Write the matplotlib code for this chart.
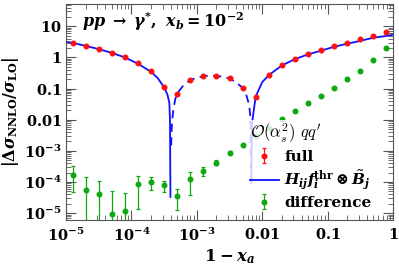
import numpy as np
import matplotlib
matplotlib.use("Agg")
import matplotlib.pyplot as plt
from matplotlib.ticker import LogLocator, NullFormatter, FixedLocator

plt.rcParams['mathtext.fontset'] = 'dejavuserif'
plt.rcParams['font.family'] = ['DejaVu Serif']
plt.rcParams['font.weight'] = 'bold'

# ---- data (log10 of 1 - x_a) ----
pts_log_x = [-4.9, -4.7, -4.5, -4.3, -4.1, -3.9, -3.7, -3.5, -3.3, -3.1,
             -2.9, -2.7, -2.5, -2.3, -2.1, -1.9, -1.7, -1.5, -1.3, -1.1,
             -0.9, -0.7, -0.5, -0.3, -0.1]

full_vals = [2.94, 2.35, 1.85, 1.40, 1.00, 0.64, 0.356, 0.11, 0.067, 0.187,
             0.252, 0.257, 0.217, 0.106, 0.0546, 0.271, 0.554, 0.90, 1.30, 1.75,
             2.30, 2.94, 3.78, 4.92, 6.6]
full_err = [0.01 * v for v in full_vals]

diff_vals = [1.64e-4, 5.5e-5, 4.2e-5, 9.6e-6, 1.2e-5, 8.3e-5, 1.0e-4, 7.7e-5, 3.5e-5, 1.26e-4,
             2.3e-4, 4.1e-4, 8.8e-4, 1.55e-3, 2.9e-3, 5.4e-3, 0.0104, 0.0188, 0.0332, 0.0582,
             0.105, 0.20, 0.38, 0.80, 1.95]
diff_lo = [4.7e-5, 1e-8, 1e-8, 1e-8, 1e-8, 1.4e-5, 5.4e-5, 4.7e-5, 1.3e-5, 3.7e-5,
           1.6e-4, 3.4e-4, 8.0e-4, 1.45e-3, 2.8e-3, 5.3e-3, 0.0102, 0.0185, 0.0328, 0.0576,
           0.104, 0.198, 0.377, 0.795, 1.94]
diff_hi = [3.2e-4, 1.4e-4, 1.05e-4, 5.2e-5, 4.3e-5, 1.5e-4, 1.4e-4, 1.05e-4, 5.8e-5, 2.1e-4,
           2.95e-4, 4.9e-4, 9.6e-4, 1.65e-3, 3.0e-3, 5.5e-3, 0.0106, 0.0191, 0.0336, 0.0588,
           0.106, 0.202, 0.383, 0.805, 1.96]

# theory curve H f (x) B : positive (solid) / negative (dashed) branches
thr1_log_x = [-5.0, -4.9, -4.7, -4.5, -4.3, -4.1, -3.9, -3.7, -3.6, -3.5, -3.45, -3.42, -3.41, -3.403]
thr1_vals = [3.2, 2.94, 2.35, 1.85, 1.40, 1.0, 0.63, 0.345, 0.22, 0.11, 0.065, 0.035, 0.01, 3.3e-5]

thr2_log_x = [-3.392, -3.38, -3.36, -3.33, -3.3, -3.2, -3.1, -3.0, -2.9, -2.8, -2.7, -2.6,
              -2.5, -2.4, -2.3, -2.25, -2.2, -2.18, -2.17]
thr2_vals = [1.5e-3, 0.008, 0.02, 0.045, 0.07, 0.13, 0.185, 0.225, 0.25, 0.26, 0.255, 0.24,
             0.21, 0.16, 0.105, 0.07, 0.03, 0.012, 8e-5]

thr3_log_x = [-2.166, -2.156, -2.1, -2.0, -1.9, -1.7, -1.5, -1.3, -1.1, -0.9, -0.7, -0.5, -0.3, -0.1, 0.0]
thr3_vals = [1e-4, 0.0076, 0.055, 0.16, 0.27, 0.55, 0.88, 1.25, 1.65, 2.2, 2.75, 3.4, 4.3, 4.9, 5.4]

x_tick_vals = [1e-5, 1e-4, 1e-3, 1e-2, 1e-1, 1]
x_tick_labels = [r'$\mathbf{10^{-5}}$', r'$\mathbf{10^{-4}}$', r'$\mathbf{10^{-3}}$',
                 r'$\mathbf{0.01}$', r'$\mathbf{0.1}$', r'$\mathbf{1}$']
y_tick_vals = [1e-5, 1e-4, 1e-3, 1e-2, 1e-1, 1, 10]
y_tick_labels = [r'$\mathbf{10^{-5}}$', r'$\mathbf{10^{-4}}$', r'$\mathbf{10^{-3}}$',
                 r'$\mathbf{0.01}$', r'$\mathbf{0.1}$', r'$\mathbf{1}$', r'$\mathbf{10}$']

RED = '#ff1010'
BLUE = '#1010ff'
GREEN = '#10a810'

fig = plt.figure(figsize=(3.99, 2.69), dpi=100)
ax = fig.add_axes([66/399, 1 - 220/269, 327/399, 216/269])
ax.set_xscale('log')
ax.set_yscale('log')

px = 10 ** np.array(pts_log_x)

ax.plot(10 ** np.array(thr1_log_x), thr1_vals, color=BLUE, lw=1.3, zorder=2)
ax.plot(10 ** np.array(thr2_log_x), thr2_vals, color=BLUE, lw=1.3, ls=(0, (4.5, 3)), zorder=2)
ax.plot(10 ** np.array(thr3_log_x), thr3_vals, color=BLUE, lw=1.3, zorder=2)

fv = np.array(full_vals)
fe = np.array(full_err)
h_full = ax.errorbar(px, fv, yerr=[fe, fe], fmt='o', color=RED, ms=3.3, capsize=1.6,
                     elinewidth=0.9, capthick=0.9, zorder=3)
dv = np.array(diff_vals)
h_diff = ax.errorbar(px, dv, yerr=[dv - np.array(diff_lo), np.array(diff_hi) - dv], fmt='o',
                     color=GREEN, ms=3.3, capsize=1.6, elinewidth=0.9, capthick=0.9, zorder=3)
h_thr, = ax.plot([], [], color=BLUE, lw=1.3)

ax.set_xlim(1e-5, 1)
ax.set_ylim(6e-6, 52)

ax.xaxis.set_major_locator(FixedLocator(x_tick_vals))
ax.set_xticklabels(x_tick_labels)
ax.yaxis.set_major_locator(FixedLocator(y_tick_vals))
ax.set_yticklabels(y_tick_labels)
ax.xaxis.set_minor_locator(LogLocator(base=10, subs=np.arange(2, 10), numticks=20))
ax.yaxis.set_minor_locator(LogLocator(base=10, subs=np.arange(2, 10), numticks=20))
ax.xaxis.set_minor_formatter(NullFormatter())
ax.yaxis.set_minor_formatter(NullFormatter())
ax.tick_params(which='both', direction='in', top=True, right=True, labelsize=10.5,
               color='#555555')
ax.tick_params(which='major', length=7, width=0.8)
ax.tick_params(which='minor', length=3.5, width=0.6)
ax.tick_params(axis='x', pad=5)
ax.tick_params(axis='y', pad=3)
for s in ax.spines.values():
    s.set_color('#555555')
    s.set_linewidth(0.8)

ax.set_xlabel(r'$\mathbf{1}-\mathbfit{x}_{\mathbfit{a}}$', fontsize=12, labelpad=2)
ax.set_ylabel(r'$|\mathbf{\Delta}\mathbfit{\sigma}_{\mathbf{NNLO}}/\mathbfit{\sigma}_{\mathbf{LO}}|$',
              fontsize=11.5, labelpad=2)

ax.text(0.05, 0.92, r'$\mathbfit{pp}\;\rightarrow\;\mathbfit{\gamma}^{*},\ \mathbfit{x}_{\mathbfit{b}}=\mathbf{10^{-2}}$',
        transform=ax.transAxes, fontsize=11.5, ha='left', va='center')

leg = ax.legend([h_full, h_thr, h_diff],
                ['full', r'$\mathbfit{H}_{\mathbfit{ij}}\mathbfit{f}_{\mathbfit{i}}^{\mathbf{thr}}\otimes\tilde{\mathbfit{B}}_{\mathbfit{j}}$',
                 'difference'],
                title=r"$\mathcal{O}(\alpha_{s}^{\mathbf{2}})\ qq^{\prime}$",
                loc='upper left', bbox_to_anchor=(0.555, 0.465), frameon=True,
                framealpha=0.8, edgecolor='none', fancybox=False, fontsize=11,
                title_fontsize=12, handlelength=1.9, handletextpad=0.35,
                labelspacing=0.3, borderpad=0.15, borderaxespad=0.0)
leg.get_title().set_math_fontfamily('cm')
leg._legend_box.align = 'left'
leg.get_frame().set_facecolor('white')

fig.savefig('out.png', dpi=100)
